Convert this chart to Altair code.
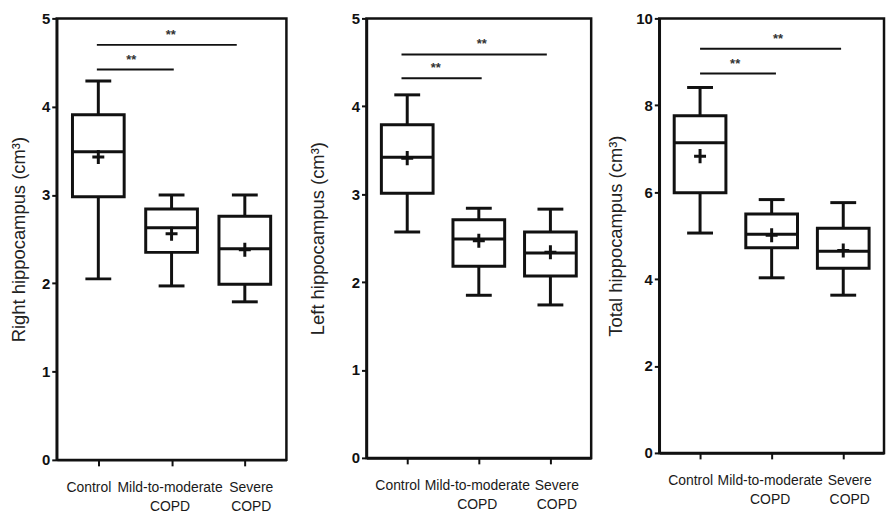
import altair as alt
import pandas as pd

# ---------------- data ----------------
groups = ["Control", "Mild-to-moderate COPD", "Severe COPD"]
group_lines = [["Control"], ["Mild-to-moderate", "COPD"], ["Severe", "COPD"]]
centers = [0.5, 1.5, 2.5]

# Right hippocampus
right_low = [2.05, 1.97, 1.79]
right_q1 = [2.98, 2.35, 1.99]
right_median = [3.49, 2.63, 2.39]
right_q3 = [3.91, 2.84, 2.76]
right_high = [4.29, 3.00, 3.00]
right_mean = [3.43, 2.56, 2.38]
right_sig_y = [4.42, 4.70]
right_sig_x1 = [0.48, 0.48]
right_sig_x2 = [1.53, 2.39]
right_star_x = [0.95, 1.49]

# Left hippocampus
left_low = [2.57, 1.85, 1.74]
left_q1 = [3.01, 2.18, 2.07]
left_median = [3.42, 2.49, 2.33]
left_q3 = [3.79, 2.71, 2.57]
left_high = [4.13, 2.84, 2.83]
left_mean = [3.41, 2.47, 2.34]
left_sig_y = [4.32, 4.59]
left_sig_x1 = [0.42, 0.42]
left_sig_x2 = [1.54, 2.45]
left_star_x = [0.90, 1.54]

# Total hippocampus
total_low = [5.06, 4.03, 3.63]
total_q1 = [5.99, 4.72, 4.25]
total_median = [7.14, 5.03, 4.64]
total_q3 = [7.76, 5.50, 5.17]
total_high = [8.41, 5.83, 5.76]
total_mean = [6.83, 5.01, 4.66]
total_sig_y = [8.73, 9.30]
total_sig_x1 = [0.50, 0.50]
total_sig_x2 = [1.56, 2.47]
total_star_x = [0.99, 1.59]

sig_labels = ["**", "**"]

# ---------------- styling ----------------
SANS = "'Liberation Sans', Arial, sans-serif"
INK = "#111111"

label_expr = " : ".join(
    f"datum.value == {c} ? {repr(lines) if len(lines) > 1 else repr(lines[0])}"
    for c, lines in zip(centers[:-1], group_lines[:-1])
) + f" : {repr(group_lines[-1])}"

label_offset = {
    "condition": [
        {"test": f"datum.value == {centers[0]}", "value": -10},
        {"test": f"datum.value == {centers[2]}", "value": 6},
    ],
    "value": -2,
}


def panel(title, ymax, yvalues, low, q1, med, q3, high, mean,
          sy, sx1, sx2, stx, width, height, title_pad):
    df = pd.DataFrame({"x": centers, "group": groups, "low": low, "q1": q1,
                       "med": med, "q3": q3, "high": high, "mean": mean})
    sig = pd.DataFrame({"y": sy, "x1": sx1, "x2": sx2, "sx": stx,
                        "label": sig_labels})

    xenc = alt.X("x:Q", scale=alt.Scale(domain=[0, 3], nice=False, zero=False),
                 axis=alt.Axis(values=centers, labelExpr=label_expr, title=None,
                               grid=False, tickSize=6, labelPadding=15,
                               labelFont=SANS, labelFontSize=14,
                               labelFontWeight="normal", labelLineHeight=19,
                               labelColor="#1a1a1a", labelBaseline="top",
                               labelOffset=label_offset,
                               labelFlush=False, labelOverlap=False))
    yenc = alt.Y("low:Q", scale=alt.Scale(domain=[0, ymax], nice=False),
                 axis=alt.Axis(values=yvalues, format="d", title=title, grid=False,
                               tickSize=5, labelPadding=2,
                               labelFont=SANS, labelFontSize=15,
                               labelFontWeight="bold", labelColor=INK,
                               titleFont=SANS, titleFontSize=18.5,
                               titleFontWeight="normal", titleColor="#222222",
                               titlePadding=title_pad))

    base = alt.Chart(df)
    whisk_lo = base.mark_rule(strokeWidth=3, color=INK).encode(x=xenc, y=yenc, y2="q1:Q")
    whisk_hi = base.mark_rule(strokeWidth=3, color=INK).encode(x="x:Q", y="q3:Q", y2="high:Q")
    box = base.mark_bar(size=52, fill="white", stroke=INK, strokeWidth=3).encode(
        x="x:Q", y="q1:Q", y2="q3:Q")
    median = base.mark_tick(orient="horizontal", size=52, thickness=3, color=INK,
                            opacity=1).encode(x="x:Q", y="med:Q")
    cap_lo = base.mark_tick(orient="horizontal", size=26, thickness=3, color=INK,
                            opacity=1).encode(x="x:Q", y="low:Q")
    cap_hi = base.mark_tick(orient="horizontal", size=26, thickness=3, color=INK,
                            opacity=1).encode(x="x:Q", y="high:Q")
    meanpt = base.mark_point(shape="M-0.85,0L0.85,0M0,-1L0,1", size=200, filled=False,
                             strokeWidth=3, color=INK, opacity=1).encode(
        x="x:Q", y="mean:Q")

    sbase = alt.Chart(sig)
    lines = sbase.mark_rule(strokeWidth=2, color=INK).encode(x="x1:Q", x2="x2:Q", y="y:Q")
    stars = sbase.mark_text(font=SANS, fontSize=13, fontWeight="bold", color="#333333",
                            baseline="middle", dy=-10).encode(
        x="sx:Q", y="y:Q", text="label:N")

    return alt.layer(whisk_lo, whisk_hi, box, median, cap_lo, cap_hi, meanpt,
                     lines, stars).properties(width=width, height=height)


p1 = panel("Right hippocampus (cm³)", 5, [0, 1, 2, 3, 4, 5],
           right_low, right_q1, right_median, right_q3, right_high, right_mean,
           right_sig_y, right_sig_x1, right_sig_x2, right_star_x, 231, 444, 13)
p2 = panel("Left hippocampus (cm³)", 5, [0, 1, 2, 3, 4, 5],
           left_low, left_q1, left_median, left_q3, left_high, left_mean,
           left_sig_y, left_sig_x1, left_sig_x2, left_star_x, 226, 442, 23.5)
p3 = panel("Total hippocampus (cm³)", 10, [0, 2, 4, 6, 8, 10],
           total_low, total_q1, total_median, total_q3, total_high, total_mean,
           total_sig_y, total_sig_x1, total_sig_x2, total_star_x, 226, 437, 10.5)

chart = alt.hconcat(alt.hconcat(p1, p2, spacing=18.5), p3, spacing=12).properties(
    padding={"left": 0, "top": 0, "right": 0, "bottom": 0},
    background="white",
).configure_view(stroke=INK, strokeWidth=2.5).configure_axis(
    domainColor=INK, domainWidth=2.5, tickColor=INK, tickWidth=2
)

chart.save("out.html", embed_options={"renderer": "svg", "actions": False})
